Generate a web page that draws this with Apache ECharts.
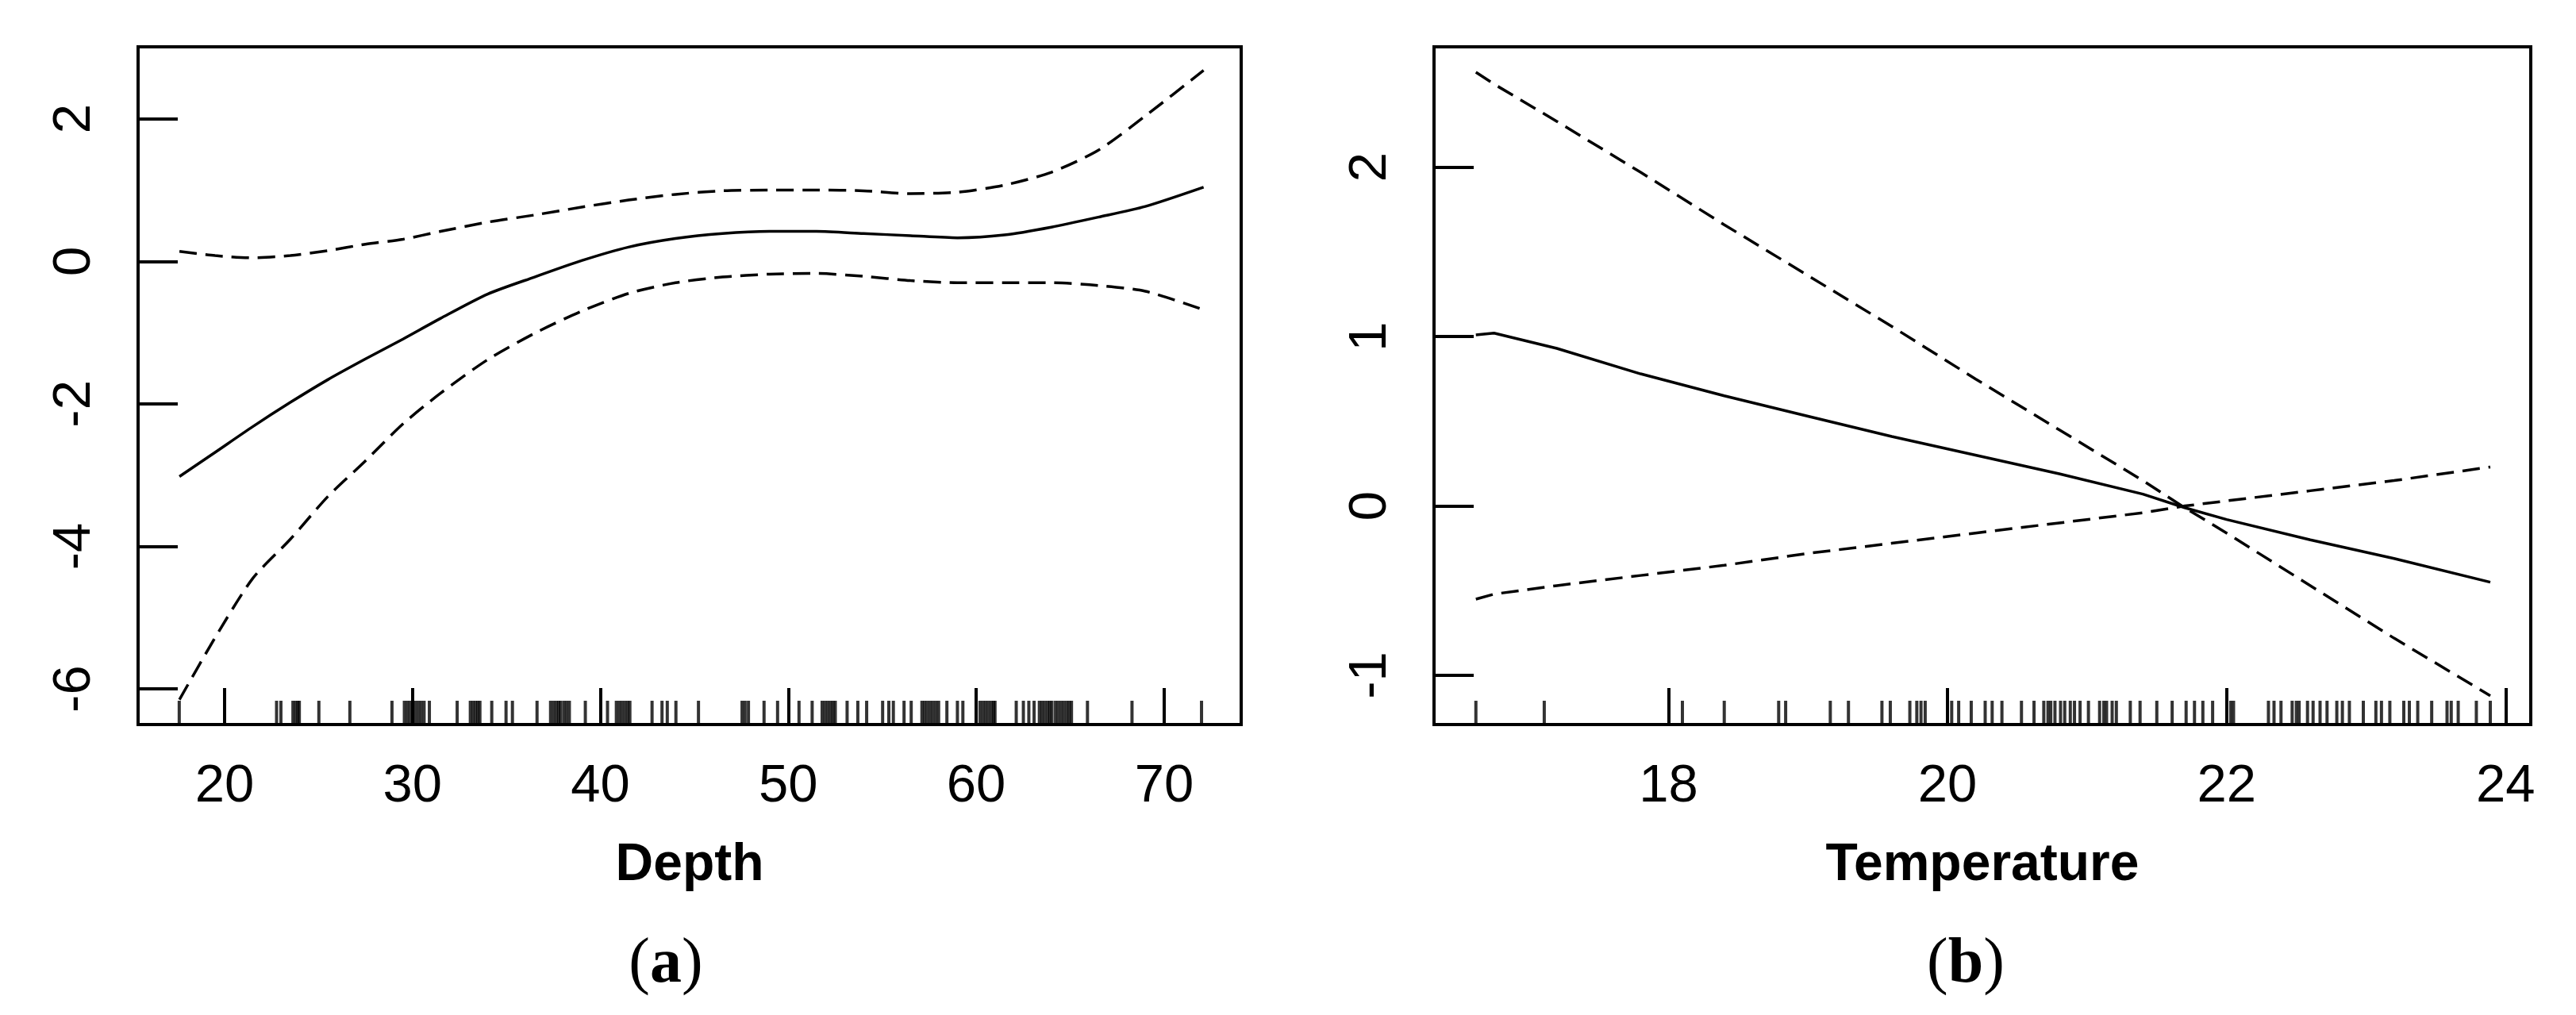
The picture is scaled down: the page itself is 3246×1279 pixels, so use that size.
<!DOCTYPE html>
<html>
<head>
<meta charset="utf-8">
<script src="https://cdn.jsdelivr.net/npm/echarts@6/dist/echarts.min.js"></script>
<style>
  html, body { margin: 0; padding: 0; background: #fff; }
  #chart { width: 3246px; height: 1279px; }
</style>
</head>
<body>
<div id="chart"></div>
<script>
// panel (a): Depth
const depthX = [17.6, 19.5, 21.5, 23.5, 25.5, 27.5, 29.5, 31.5, 34, 36.5, 39, 41.5, 44, 46.5, 49, 51.5, 54, 56.5, 59, 61.5, 64, 66.5, 69, 72.1];
const depthFit = [-3.02, -2.68, -2.32, -1.98, -1.66, -1.37, -1.09, -0.80, -0.46, -0.22, 0.01, 0.20, 0.32, 0.39, 0.42, 0.42, 0.39, 0.36, 0.33, 0.37, 0.48, 0.62, 0.77, 1.04];
const depthUpper = [0.14, 0.08, 0.05, 0.08, 0.15, 0.24, 0.31, 0.42, 0.55, 0.65, 0.76, 0.86, 0.94, 0.99, 1.0, 1.0, 0.99, 0.95, 0.97, 1.07, 1.25, 1.56, 2.04, 2.68];
const depthLower = [-6.15, -5.28, -4.45, -3.9, -3.3, -2.8, -2.28, -1.85, -1.38, -1.01, -0.70, -0.45, -0.30, -0.22, -0.18, -0.17, -0.21, -0.27, -0.30, -0.30, -0.30, -0.34, -0.42, -0.68];
const depthRug = [17.59, 22.77, 23.0, 23.64, 23.78, 23.9, 23.98, 25.02, 26.67, 28.91,
  29.57, 29.72, 29.87, 30.02, 30.17, 30.32, 30.47, 30.62, 30.9, 32.38,
  33.08, 33.22, 33.36, 33.48, 33.59, 34.22, 34.98, 35.32, 36.63,
  37.35, 37.5, 37.65, 37.78, 37.88, 38.05, 38.2, 38.35, 39.2, 40.38,
  40.85, 41.0, 41.15, 41.3, 41.45, 41.57, 42.75, 43.28, 43.56, 44.02, 45.22,
  47.54, 47.7, 47.88, 48.71, 49.43, 50.57, 51.27,
  51.8, 51.95, 52.1, 52.25, 52.38, 52.5, 53.13, 53.7, 54.17, 55.02, 55.35, 55.59, 56.16, 56.54,
  57.11, 57.25, 57.4, 57.55, 57.7, 57.85, 58.0, 58.44, 59.0, 59.29,
  60.2, 60.35, 60.5, 60.65, 60.8, 60.92, 61.0, 62.13, 62.51, 62.8, 63.08,
  63.36, 63.5, 63.65, 63.8, 63.92, 64.03, 64.22, 64.37, 64.52, 64.67, 64.82, 64.95, 65.07,
  65.92, 68.29, 71.99];
const depthTicks = [20, 30, 40, 50, 60, 70];
const depthYTicks = [-6, -4, -2, 0, 2];

// panel (b): Temperature
const tempX = [16.62, 16.75, 17.2, 17.8, 18.4, 19.0, 19.6, 20.2, 20.8, 21.4, 21.7, 22.0, 22.6, 23.2, 23.89];
const tempFit = [1.01, 1.02, 0.93, 0.78, 0.65, 0.53, 0.41, 0.30, 0.19, 0.07, -0.01, -0.08, -0.20, -0.31, -0.45];
const tempUpper = [2.56, 2.49, 2.27, 1.97, 1.66, 1.36, 1.06, 0.75, 0.45, 0.15, -0.01, -0.16, -0.47, -0.78, -1.12];
const tempLower = [-0.55, -0.52, -0.47, -0.41, -0.35, -0.28, -0.22, -0.16, -0.10, -0.04, 0.0, 0.03, 0.09, 0.15, 0.23];
const tempRug = [16.62, 17.11, 18.10, 18.40, 18.79, 18.84, 19.16, 19.29, 19.53, 19.59, 19.73, 19.78, 19.81, 19.84,
  20.03, 20.08, 20.17, 20.27, 20.32, 20.39, 20.53, 20.62, 20.69, 20.72, 20.74, 20.77, 20.81, 20.84, 20.88,
  20.91, 20.95, 21.01, 21.09, 21.12, 21.14, 21.18, 21.21, 21.31, 21.38, 21.5, 21.61, 21.71, 21.77, 21.83, 21.9,
  22.03, 22.05, 22.30, 22.34, 22.39, 22.47, 22.5, 22.52, 22.58, 22.62, 22.67, 22.72, 22.79, 22.83, 22.88,
  22.98, 23.07, 23.11, 23.17, 23.27, 23.31, 23.37, 23.47, 23.58, 23.61, 23.66, 23.79, 23.89];
const tempTicks = [18, 20, 22, 24];
const tempYTicks = [-1, 0, 1, 2];

const yRange = [[-6.5, 3.01], [-1.29, 2.71]];
const xRange = [[15.4, 74.1], [16.32, 24.18]];

function pairs(xs, ys) {
  return xs.map((x, i) => [x, ys[i]]);
}

let font = 'Liberation Sans, Arial, sans-serif';
let dash = [22, 11];

function xAx(i, ticks, name) {
  return {
    type: 'value', gridIndex: i, min: xRange[i][0], max: xRange[i][1],
    axisLine: { show: false, onZero: false },
    splitLine: { show: false },
    axisTick: { inside: true, length: 46, lineStyle: { color: '#000', width: 4 }, customValues: ticks },
    axisLabel: { customValues: ticks, margin: 45, color: '#000', fontSize: 67, fontFamily: font },
    name: name, nameLocation: 'middle', nameGap: 145,
    nameTextStyle: { color: '#000', fontSize: 66, fontWeight: 'bold', fontFamily: font }
  };
}

function yAx(i, ticks) {
  return {
    type: 'value', gridIndex: i, min: yRange[i][0], max: yRange[i][1],
    axisLine: { show: false, onZero: false },
    splitLine: { show: false },
    axisTick: { inside: true, length: 50, lineStyle: { color: '#000', width: 4 }, customValues: ticks },
    axisLabel: { customValues: ticks, rotate: 90, margin: 46, color: '#000', fontSize: 67, fontFamily: font }
  };
}

function curve(i, data, solid, smooth) {
  return {
    type: 'line', xAxisIndex: i, yAxisIndex: i, data: data,
    showSymbol: false, smooth: smooth, silent: true,
    lineStyle: { color: '#000', width: 3.5, type: solid ? 'solid' : dash }
  };
}

function rug(i, xs) {
  return {
    type: 'scatter', xAxisIndex: i, yAxisIndex: i, silent: true,
    symbol: 'rect', symbolSize: [4, 30], symbolOffset: [0, -15],
    itemStyle: { color: '#000' },
    data: xs.map(x => [x, yRange[i][0]])
  };
}

let chart = echarts.init(document.getElementById('chart'), null, { renderer: 'canvas' });
let option = {
  backgroundColor: '#fff',
  animation: false,
  title: [
    {
      text: '({b|a})', left: 839, top: 1176, textAlign: 'center', padding: 0,
      textStyle: { fontFamily: 'Liberation Serif', fontSize: 80, fontWeight: 'normal', color: '#000',
        rich: { b: { fontFamily: 'Liberation Serif', fontSize: 80, fontWeight: 'bold', color: '#000' } } }
    },
    {
      text: '({b|b})', left: 2477, top: 1176, textAlign: 'center', padding: 0,
      textStyle: { fontFamily: 'Liberation Serif', fontSize: 80, fontWeight: 'normal', color: '#000',
        rich: { b: { fontFamily: 'Liberation Serif', fontSize: 80, fontWeight: 'bold', color: '#000' } } }
    }
  ],
  grid: [
    { left: 174, top: 59, width: 1390, height: 854, show: true, borderColor: '#000', borderWidth: 4, backgroundColor: 'transparent' },
    { left: 1807, top: 59, width: 1382, height: 854, show: true, borderColor: '#000', borderWidth: 4, backgroundColor: 'transparent' }
  ],
  xAxis: [xAx(0, depthTicks, 'Depth'), xAx(1, tempTicks, 'Temperature')],
  yAxis: [yAx(0, depthYTicks), yAx(1, tempYTicks)],
  series: [
    curve(0, pairs(depthX, depthFit), true, 0.25),
    curve(0, pairs(depthX, depthUpper), false, 0.25),
    curve(0, pairs(depthX, depthLower), false, 0.25),
    rug(0, depthRug),
    curve(1, pairs(tempX, tempFit), true, false),
    curve(1, pairs(tempX, tempUpper), false, false),
    curve(1, pairs(tempX, tempLower), false, false),
    rug(1, tempRug)
  ]
};
chart.setOption(option);
</script>
</body>
</html>
